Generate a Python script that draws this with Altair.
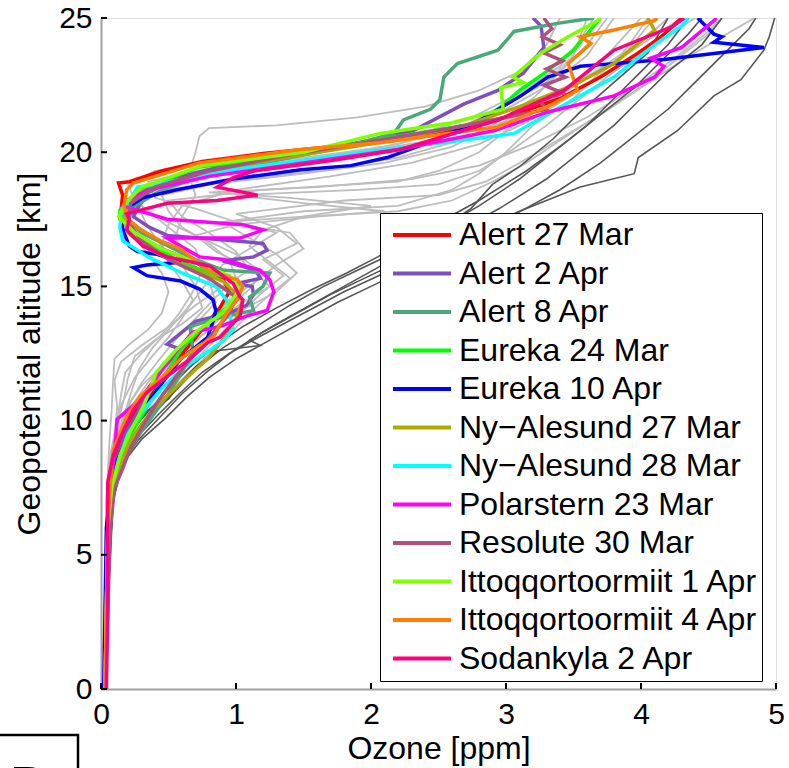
import altair as alt
import pandas as pd

# ---------------- legend / series definitions ----------------
names = ["Alert 27 Mar", "Alert 2 Apr", "Alert 8 Apr", "Eureka 24 Mar", "Eureka 10 Apr",
         "Ny\u2212Alesund 27 Mar", "Ny\u2212Alesund 28 Mar", "Polarstern 23 Mar", "Resolute 30 Mar",
         "Ittoqqortoormiit 1 Apr", "Ittoqqortoormiit 4 Apr", "Sodankyla 2 Apr"]
colors = ["#ff0000", "#7f4fbf", "#4ca87a", "#00ff00", "#0000ff", "#b0a800",
          "#00ffff", "#ff00ff", "#b05080", "#80ff00", "#ff8000", "#ff0080"]

x_ticks = [0, 1, 2, 3, 4, 5]
y_ticks = [0, 5, 10, 15, 20, 25]

# ---------------- coloured profiles: [ozone ppm, altitude km] ----------------
alert_27mar = [[0.03,0],[0.04,3],[0.05,6],[0.07,7.5],[0.1,8.5],[0.16,9.5],[0.25,10.3],[0.38,11.0],
               [0.5,11.8],[0.62,12.6],[0.75,13.4],[0.88,14.2],[0.95,14.8],[0.9,15.3],[0.7,15.9],
               [0.45,16.4],[0.28,16.9],[0.18,17.4],[0.15,17.9],[0.16,18.4],[0.13,18.85],[0.21,18.9],
               [0.45,19.3],[0.75,19.65],[1.2,19.95],[1.7,20.2],[2.1,20.4],[2.6,20.8],[3.0,21.3],
               [3.4,22.0],[3.7,22.8],[3.95,23.6],[4.15,24.3],[4.3,25]]
alert_2apr = [[0.03,0],[0.04,3],[0.05,6],[0.07,7.5],[0.11,8.5],[0.18,9.5],[0.28,10.4],[0.36,11.2],
              [0.45,11.9],[0.59,12.65],[0.49,12.85],[0.6,13.3],[0.7,13.7],[0.95,14.0],[1.08,14.3],
              [1.13,14.7],[1.12,15.0],[1.0,15.1],[1.18,15.3],[1.15,15.6],[0.9,15.95],[1.13,16.1],
              [1.23,16.35],[1.2,16.6],[0.98,16.7],[0.49,16.9],[0.36,17.2],[0.24,17.6],[0.28,18.0],
              [0.35,18.5],[0.6,19.1],[1.0,19.6],[1.5,20.0],[1.95,20.4],[2.31,20.8],[2.69,21.8],
              [2.94,22.3],[3.13,22.95],[3.28,23.9],[3.26,24.7],[3.2,25]]
alert_8apr = [[0.03,0],[0.05,3],[0.06,6],[0.1,7.5],[0.16,8.3],[0.21,8.9],[0.3,9.6],[0.4,10.3],
              [0.5,11.0],[0.6,11.8],[0.68,12.6],[0.66,13.5],[0.85,13.8],[1.13,14.1],[1.1,14.6],
              [1.2,15.0],[1.25,15.5],[0.91,15.6],[0.7,16.0],[0.5,16.5],[0.3,17.0],[0.2,17.5],
              [0.25,18.0],[0.45,18.6],[0.8,19.2],[1.3,19.7],[1.8,20.2],[2.17,20.7],[2.24,21.2],
              [2.44,21.6],[2.51,21.95],[2.54,22.8],[2.64,23.3],[2.94,23.8],[3.01,24.2],[3.06,24.5],
              [3.38,24.8],[3.65,25]]
eureka_24mar = [[0.03,0],[0.04,3],[0.05,6],[0.08,7.5],[0.13,8.5],[0.2,9.3],[0.28,10.0],[0.35,10.6],
                [0.42,11.2],[0.5,11.9],[0.6,12.7],[0.72,13.3],[0.85,13.9],[0.98,14.4],[1.03,14.9],
                [0.95,15.3],[0.75,15.6],[0.55,16.0],[0.4,16.5],[0.25,17.0],[0.14,17.5],[0.14,17.85],
                [0.2,18.2],[0.29,18.6],[0.73,19.45],[1.48,19.95],[2.22,20.6],[2.81,21.1],[2.94,21.6],
                [3.1,22.3],[3.3,23.0],[3.5,23.8],[3.6,24.4],[3.7,25]]
eureka_10apr = [[0.02,0],[0.03,3],[0.04,6],[0.07,7.5],[0.12,8.5],[0.2,9.4],[0.28,10.2],[0.38,10.9],
                [0.49,11.65],[0.59,12.3],[0.79,13.1],[0.83,13.7],[0.85,14.1],[0.83,14.5],[0.73,14.9],
                [0.59,15.2],[0.34,15.4],[0.24,15.7],[0.34,15.8],[0.59,15.9],[0.41,16.2],[0.27,16.3],
                [0.21,16.5],[0.17,17.0],[0.14,17.6],[0.17,17.85],[0.31,18.3],[0.56,18.6],[0.98,19.0],
                [1.48,19.35],[1.85,19.5],[2.12,19.8],[2.45,20.4],[2.81,21.2],[3.11,22.1],[3.31,22.8],
                [3.55,23.2],[3.8,23.3],[4.17,23.45],[4.91,23.9],[4.54,24.1],[4.6,24.3],[4.54,24.4],
                [4.44,24.9],[4.42,25]]
nyalesund_27mar = [[0.03,0],[0.05,3],[0.06,6],[0.09,7.5],[0.15,8.5],[0.25,9.5],[0.38,10.4],[0.59,11.4],
                   [0.79,12.3],[0.9,13.0],[1.0,13.8],[1.05,14.5],[0.9,15.2],[0.6,15.8],[0.35,16.4],
                   [0.2,17.0],[0.17,17.6],[0.22,18.2],[0.45,18.8],[0.9,19.4],[1.5,19.9],[2.1,20.4],
                   [2.7,21.0],[3.1,21.7],[3.5,22.5],[3.8,23.3],[3.92,23.8],[4.1,24.55],[4.05,25]]
nyalesund_28mar = [[0.03,0],[0.04,3],[0.05,6],[0.08,7.5],[0.13,8.5],[0.2,9.5],[0.3,10.3],[0.45,11.2],
                   [0.62,12.0],[0.8,12.6],[0.91,13.0],[0.98,13.4],[0.95,14.0],[0.93,14.5],[0.85,15.0],
                   [0.6,15.5],[0.35,16.1],[0.16,16.7],[0.14,17.2],[0.15,17.7],[0.27,18.7],[0.73,19.1],
                   [0.98,19.35],[1.5,19.7],[2.1,20.1],[2.6,20.4],[3.06,20.7],[3.55,22.1],[3.8,22.8],
                   [4.1,24.0],[4.3,24.7],[4.35,25]]
polarstern_23mar = [[0.03,0],[0.04,3],[0.05,6],[0.07,7.5],[0.1,8.8],[0.12,10.05],[0.29,10.8],[0.51,12.3],
                    [0.68,13.3],[0.88,13.5],[1.08,13.9],[1.23,14.1],[1.28,14.8],[1.25,15.25],[1.18,15.6],
                    [0.91,16.0],[0.73,16.1],[0.59,16.5],[0.49,16.8],[1.03,16.8],[1.2,17.1],[1.05,17.3],
                    [0.49,17.5],[0.16,18.0],[0.19,18.2],[0.35,18.6],[0.8,19.1],[1.5,19.6],[2.2,20.1],
                    [2.91,20.8],[3.31,21.5],[3.8,22.1],[4.1,22.8],[4.17,23.2],[4.07,23.5],[4.3,23.9],
                    [4.54,24.9],[4.56,25]]
resolute_30mar = [[0.03,0],[0.05,3],[0.07,6],[0.1,7.5],[0.16,8.2],[0.22,9.0],[0.32,9.9],[0.42,10.7],
                  [0.55,11.6],[0.68,12.4],[0.82,13.2],[0.95,14.0],[1.0,14.6],[0.8,15.3],[0.5,16.0],
                  [0.3,16.7],[0.2,17.4],[0.22,18.1],[0.4,18.7],[0.8,19.3],[1.4,19.9],[2.0,20.4],
                  [2.6,20.9],[3.0,21.3],[3.3,21.6],[3.25,21.9],[3.42,22.2],[3.28,22.5],[3.44,22.8],
                  [3.3,23.1],[3.42,23.4],[3.28,23.7],[3.4,24.0],[3.27,24.3],[3.34,24.6],[3.28,25]]
ittoq_1apr = [[0.03,0],[0.04,3],[0.05,6],[0.08,7.5],[0.14,8.7],[0.22,9.6],[0.32,10.6],[0.41,11.8],
              [0.55,12.6],[0.7,13.3],[0.9,14.0],[1.03,14.9],[0.95,15.4],[0.7,15.9],[0.45,16.4],
              [0.25,17.0],[0.13,17.6],[0.18,18.1],[0.3,18.7],[0.75,19.5],[1.5,20.0],[2.07,20.7],
              [2.6,21.1],[2.98,21.6],[2.96,22.4],[3.13,22.6],[3.05,22.8],[3.26,23.7],[3.46,24.3],
              [3.68,24.9],[3.7,25]]
ittoq_4apr = [[0.03,0],[0.04,3],[0.05,6],[0.07,7.7],[0.09,8.9],[0.19,10.15],[0.29,10.9],[0.46,11.65],
              [0.59,12.3],[0.73,12.8],[0.83,13.1],[0.93,14.0],[1.01,14.5],[1.05,15.0],[1.01,15.25],
              [0.79,15.6],[0.59,16.4],[0.44,16.7],[0.3,17.1],[0.2,17.5],[0.17,18.0],[0.19,18.6],
              [0.24,18.85],[0.73,19.6],[1.48,20.1],[2.07,20.35],[2.94,20.95],[3.31,21.7],[3.53,22.3],
              [3.46,23.3],[3.63,24.05],[3.55,24.3],[3.8,24.55],[4.1,24.9],[4.12,25]]
sodankyla_2apr = [[0.04,0],[0.05,3],[0.05,5.6],[0.05,7.7],[0.09,8.7],[0.16,9.55],[0.24,10.4],[0.34,11.05],
                  [0.49,11.65],[0.66,12.3],[0.79,12.9],[0.88,13.1],[1.03,13.9],[1.05,14.5],[1.03,14.6],
                  [0.98,15.1],[0.81,15.75],[0.68,15.9],[0.49,16.1],[0.31,16.5],[0.24,16.85],[0.19,17.1],
                  [0.21,17.5],[0.19,17.7],[0.49,18.1],[0.86,18.2],[1.16,18.4],[0.86,18.7],[0.98,19.05],
                  [1.13,19.3],[1.72,19.7],[2.22,20.1],[2.94,21.2],[3.43,22.3],[3.8,23.8],[4.24,24.7],
                  [4.32,25]]

coloured = [alert_27mar, alert_2apr, alert_8apr, eureka_24mar, eureka_10apr, nyalesund_27mar,
            nyalesund_28mar, polarstern_23mar, resolute_30mar, ittoq_1apr, ittoq_4apr, sodankyla_2apr]

# ---------------- light grey background profiles ----------------
grey_01 = [[0.02,0],[0.03,4],[0.05,7],[0.08,8.5],[0.1,9.5],[0.12,10.5],[0.1,11.5],[0.15,12.2],[0.3,12.8],
           [0.5,13.5],[0.7,14.3],[0.9,15.0],[1.1,15.6],[1.0,16.3],[0.8,17.0],[0.6,17.6],[0.5,18.2],
           [1.2,18.6],[2.2,18.9],[2.5,19.3],[2.8,20.0],[3.0,20.8],[3.3,21.8],[3.6,22.8],[3.9,23.8],[4.1,25]]
grey_02 = [[0.02,0],[0.04,4],[0.06,7],[0.1,8.5],[0.15,9.5],[0.25,10.5],[0.4,11.5],[0.55,12.4],[0.75,13.2],
           [1.0,14.0],[1.3,14.8],[1.45,15.5],[1.3,16.2],[1.1,16.8],[0.9,17.4],[1.5,17.8],[2.2,18.0],
           [2.6,18.6],[2.8,19.2],[3.0,20.0],[3.2,21.0],[3.5,22.0],[3.7,23.0],[4.0,24.0],[4.3,25]]
grey_03 = [[0.02,0],[0.03,4],[0.04,7],[0.06,9],[0.08,10.5],[0.09,11.5],[0.1,12.3],[0.2,12.8],[0.35,13.4],
           [0.45,14.0],[0.5,14.8],[0.45,15.5],[0.35,16.2],[0.25,16.8],[0.2,17.5],[0.3,18.2],[0.6,18.8],
           [1.0,19.3],[1.6,19.8],[2.2,20.3],[2.7,21.0],[3.0,21.8],[3.3,22.6],[3.5,23.6],[3.6,25]]
grey_04 = [[0.02,0],[0.04,4],[0.05,7],[0.08,8.8],[0.14,9.8],[0.2,10.6],[0.3,11.3],[0.45,12.0],[0.6,12.8],
           [0.7,13.6],[0.85,14.4],[0.8,15.2],[0.65,16.0],[0.55,16.8],[0.6,17.6],[0.7,18.4],[0.65,19.2],
           [0.7,20.0],[0.73,20.6],[0.8,20.9],[1.3,21.0],[1.9,21.3],[2.4,21.7],[2.8,22.3],[3.1,23.0],
           [3.3,24.0],[3.4,25]]
grey_05 = [[0.02,0],[0.03,4],[0.05,7],[0.09,8.5],[0.14,9.4],[0.22,10.2],[0.32,11.0],[0.45,11.8],[0.62,12.6],
           [0.8,13.4],[0.95,14.2],[1.1,14.9],[1.2,15.5],[1.0,16.2],[0.7,16.9],[0.45,17.5],[0.3,18.0],
           [0.25,18.5],[0.5,19.0],[1.1,19.5],[1.8,19.9],[2.4,20.4],[2.9,21.1],[3.3,22.0],[3.6,22.9],
           [3.8,23.9],[4.0,25]]
grey_06 = [[0.02,0],[0.04,4],[0.06,7],[0.1,8.4],[0.18,9.3],[0.3,10.1],[0.45,10.9],[0.6,11.7],[0.75,12.5],
           [0.9,13.3],[1.05,14.1],[1.2,14.8],[1.35,15.4],[1.2,16.0],[1.45,16.6],[1.3,17.2],[1.0,17.7],
           [1.8,18.2],[2.5,18.4],[2.85,18.9],[3.1,19.6],[3.4,20.5],[3.7,21.4],[4.0,22.4],[4.3,23.4],
           [4.6,24.3],[4.84,25]]
grey_07 = [[0.02,0],[0.03,4],[0.04,7],[0.07,8.7],[0.12,9.8],[0.17,10.8],[0.2,11.6],[0.25,12.4],[0.4,13.0],
           [0.6,13.6],[0.75,14.2],[0.7,15.0],[0.6,15.8],[0.45,16.5],[0.35,17.2],[0.28,17.9],[0.35,18.4],
           [0.8,18.8],[1.5,19.2],[2.1,19.6],[2.6,20.2],[2.9,21.0],[3.2,22.0],[3.4,23.0],[3.6,24.0],[3.75,25]]
grey_08 = [[0.02,0],[0.04,4],[0.05,7],[0.08,8.6],[0.13,9.6],[0.2,10.5],[0.3,11.4],[0.42,12.2],[0.55,13.0],
           [0.7,13.8],[0.85,14.6],[1.0,15.3],[0.95,16.0],[0.8,16.6],[0.6,17.2],[0.5,17.8],[0.45,18.4],
           [0.9,18.9],[1.6,19.3],[2.2,19.8],[2.7,20.5],[3.1,21.4],[3.45,22.3],[3.75,23.2],[4.0,24.1],[4.2,25]]
grey_09 = [[0.02,0],[0.03,4],[0.05,7],[0.1,8.9],[0.16,10.0],[0.22,11.0],[0.28,11.9],[0.38,12.7],[0.52,13.5],
           [0.66,14.3],[0.78,15.1],[0.9,15.8],[1.1,16.4],[1.3,17.0],[1.0,17.4],[0.7,17.9],[0.4,18.3],
           [0.35,18.9],[0.8,19.4],[1.5,19.8],[2.1,20.2],[2.6,20.8],[3.0,21.6],[3.35,22.6],[3.6,23.6],[3.8,25]]
grey_10 = [[0.02,0],[0.04,4],[0.06,7],[0.1,8.6],[0.17,9.6],[0.28,10.5],[0.4,11.3],[0.52,12.1],[0.65,12.9],
           [0.8,13.7],[0.95,14.5],[1.15,15.2],[1.3,15.8],[1.5,16.4],[1.4,17.0],[0.9,17.4],[1.5,17.6],
           [2.2,17.8],[2.6,18.2],[2.9,18.9],[3.15,19.6],[3.45,20.6],[3.75,21.6],[4.05,22.6],[4.3,23.6],
           [4.5,24.4],[4.6,25]]
grey_11 = [[0.02,0],[0.03,4],[0.05,7],[0.08,8.8],[0.12,10.0],[0.15,11.0],[0.18,11.8],[0.3,12.5],[0.45,13.2],
           [0.58,14.0],[0.68,14.8],[0.75,15.6],[0.7,16.4],[0.55,17.0],[0.4,17.6],[0.25,18.2],[0.2,18.8],
           [0.4,19.3],[1.0,19.8],[1.7,20.2],[2.3,20.6],[2.75,21.3],[3.1,22.2],[3.4,23.2],[3.55,24.2],[3.65,25]]
grey_12 = [[0.02,0],[0.04,4],[0.06,7],[0.11,8.4],[0.2,9.2],[0.32,10.0],[0.48,10.8],[0.62,11.6],[0.78,12.4],
           [0.95,13.2],[1.1,14.0],[1.25,14.7],[1.4,15.3],[1.25,15.9],[1.1,16.5],[1.2,17.1],[1.5,17.6],
           [2.0,18.0],[1.4,18.3],[0.8,18.5],[1.6,18.7],[2.3,19.0],[2.8,19.5],[3.2,20.3],[3.6,21.3],
           [3.95,22.4],[4.25,23.5],[4.5,24.5],[4.6,25]]
grey_13 = [[0.02,0],[0.03,4],[0.04,7],[0.06,8.5],[0.1,9.5],[0.15,10.6],[0.25,11.6],[0.38,12.4],[0.5,13.1],
           [0.6,13.8],[0.68,14.5],[0.6,15.2],[0.5,15.9],[0.45,16.6],[0.5,17.3],[0.6,18.0],[1.0,18.6],
           [1.7,19.1],[2.3,19.6],[2.8,20.3],[3.15,21.1],[3.45,22.0],[3.7,22.9],[3.9,23.9],[4.05,25]]
grey_14 = [[0.02,0],[0.04,4],[0.05,7],[0.09,8.6],[0.15,9.7],[0.25,10.7],[0.36,11.5],[0.5,12.3],[0.65,13.0],
           [0.85,13.7],[1.05,14.4],[1.25,15.0],[1.1,15.7],[0.85,16.3],[0.7,16.9],[1.0,17.3],[1.6,17.6],
           [2.1,17.8],[1.5,18.1],[1.0,18.4],[1.9,18.6],[2.5,18.8],[2.8,19.3],[3.05,20.1],[3.3,21.0],
           [3.55,22.0],[3.8,23.0],[4.1,24.0],[4.4,25]]
greys = [grey_01, grey_02, grey_03, grey_04, grey_05, grey_06, grey_07,
         grey_08, grey_09, grey_10, grey_11, grey_12, grey_13, grey_14]

# ---------------- dark grey profiles ----------------
dark_1 = [[0.03,0],[0.05,4],[0.08,7],[0.13,8.5],[0.25,9.5],[0.4,10.3],[0.55,11.1],[0.7,11.9],[0.9,12.7],
          [1.15,13.5],[1.4,14.3],[1.65,15.0],[1.9,15.6],[2.15,16.2],[2.45,17.0],[2.8,18.0],[3.1,19.0],
          [3.35,20.0],[3.6,21.0],[3.8,22.0],[4.0,23.0],[4.2,24.0],[4.35,25]]
dark_2 = [[0.03,0],[0.05,4],[0.09,7],[0.15,8.4],[0.28,9.3],[0.45,10.2],[0.6,11.0],[0.78,11.8],[0.98,12.6],
          [1.2,13.3],[1.45,14.0],[1.7,14.7],[1.95,15.3],[2.2,15.9],[2.55,16.8],[2.95,17.9],[3.3,19.0],
          [3.55,20.0],[3.8,21.0],[4.0,22.0],[4.2,23.0],[4.45,24.0],[4.6,25]]
dark_3 = [[0.03,0],[0.05,4],[0.08,7],[0.12,8.6],[0.2,9.6],[0.35,10.4],[0.5,10.8],[0.58,11.4],[0.7,12.0],
          [0.86,12.6],[1.18,12.8],[1.1,13.0],[1.3,13.6],[1.55,14.3],[1.8,15.0],[2.05,15.7],[2.35,16.6],
          [2.74,17.9],[2.9,18.8],[3.11,19.5],[3.35,20.5],[3.55,21.5],[3.8,22.6],[4.05,23.7],[4.2,25]]
dark_4 = [[0.03,0],[0.05,4],[0.09,7],[0.14,8.5],[0.27,9.4],[0.42,10.2],[0.58,11.0],[0.75,11.8],[0.95,12.5],
          [1.2,13.2],[1.5,14.0],[1.8,14.8],[2.1,15.5],[2.4,16.2],[2.74,17.0],[3.1,17.8],[3.55,18.7],
          [3.95,19.2],[3.98,19.8],[4.27,20.8],[4.54,22.1],[4.74,22.7],[4.91,23.8],[4.95,24.3],[4.99,25]]
dark_5 = [[0.03,0],[0.05,4],[0.08,7],[0.12,8.6],[0.22,9.6],[0.38,10.5],[0.52,11.3],[0.66,12.0],[0.85,12.8],
          [1.05,13.5],[1.3,14.2],[1.57,14.9],[1.82,15.5],[2.05,16.1],[2.4,17.1],[2.8,18.2],[3.15,19.3],
          [3.45,20.4],[3.7,21.4],[3.95,22.4],[4.15,23.4],[4.35,24.4],[4.45,25]]
dark_6 = [[0.03,0],[0.06,4],[0.09,7],[0.16,8.4],[0.3,9.3],[0.48,10.1],[0.64,10.9],[0.8,11.6],[1.0,12.3],
          [1.25,13.0],[1.5,13.7],[1.75,14.4],[2.0,15.0],[2.25,15.6],[2.6,16.5],[3.0,17.5],[3.4,18.6],
          [3.7,19.6],[3.95,20.6],[4.2,21.6],[4.4,22.6],[4.6,23.6],[4.8,24.6],[4.85,25]]
darks = [dark_1, dark_2, dark_3, dark_4, dark_5, dark_6]


def to_frame(profile_list, labels):
    rows = []
    for lab, prof in zip(labels, profile_list):
        for i, (o, a) in enumerate(prof):
            rows.append({"name": lab, "i": i, "ozone": o, "alt": a})
    return pd.DataFrame(rows)


grey_df = to_frame(greys, [f"g{k}" for k in range(len(greys))])
dark_df = to_frame(darks, [f"d{k}" for k in range(len(darks))])

FONT = "Liberation Sans"

xscale = alt.Scale(domain=[0, 5], nice=False, zero=False)
yscale = alt.Scale(domain=[0, 25], nice=False, zero=False)

x_axis = alt.Axis(values=x_ticks, title="Ozone [ppm]", ticks=False, grid=False,
                  labelFontSize=30, titleFontSize=32, labelFont=FONT, titleFont=FONT,
                  titleFontWeight="normal", labelColor="black", titleColor="black",
                  domainColor="#a0a0a0", domainWidth=2, labelPadding=10, titlePadding=4,
                  format="d", labelFlush=False, labelOverlap=False)
y_axis = alt.Axis(values=y_ticks, title="Geopotential altitude [km]", ticks=False, grid=False,
                  labelFontSize=30, titleFontSize=32, labelFont=FONT, titleFont=FONT,
                  titleFontWeight="normal", labelColor="black", titleColor="black",
                  domainColor="#a0a0a0", domainWidth=2, labelPadding=9, titlePadding=12,
                  format="d", labelFlush=False, labelOverlap=False)

X = alt.X("ozone:Q", scale=xscale, axis=x_axis, title="Ozone [ppm]")
Y = alt.Y("alt:Q", scale=yscale, axis=y_axis, title="Geopotential altitude [km]")

grey_layer = alt.Chart(grey_df).mark_line(color="#bdbdbd", strokeWidth=1.8, clip=True).encode(
    x=X, y=Y, detail="name:N", order="i:Q")
dark_layer = alt.Chart(dark_df).mark_line(color="#555555", strokeWidth=1.6, clip=True).encode(
    x=X, y=Y, detail="name:N", order="i:Q")

color_enc = alt.Color(
    "name:N",
    scale=alt.Scale(domain=names, range=colors),
    legend=alt.Legend(orient="none", legendX=279, legendY=195, title=None, symbolType="stroke",
                      symbolSize=3364, symbolStrokeWidth=4, labelFont=FONT, labelFontSize=32,
                      labelColor="black", clipHeight=36, rowPadding=2.5, padding=4, symbolOffset=7,
                      labelOffset=6, fillColor="white", strokeColor="black", labelLimit=500,
                      values=names))

coloured_layers = []
for nm, prof in zip(names, coloured):
    df = to_frame([prof], [nm])
    coloured_layers.append(
        alt.Chart(df).mark_line(strokeWidth=3.5, clip=True).encode(
            x=X, y=Y, color=color_enc, order="i:Q"))

# short inward tick marks at the axis tick values
xt_df = pd.DataFrame({"ozone": x_ticks})
yt_df = pd.DataFrame({"alt": y_ticks})
xtick_layer = alt.Chart(xt_df).mark_rule(color="black", strokeWidth=2).encode(
    x=X, y=alt.value(671), y2=alt.value(665))
ytick_layer = alt.Chart(yt_df).mark_rule(color="black", strokeWidth=2).encode(
    y=Y, x=alt.value(0), x2=alt.value(6))

panel_df = pd.DataFrame({"lab": ["D"]})
panel_box = alt.Chart(panel_df).mark_rect(filled=False, stroke="black", strokeWidth=2.5).encode(
    x=alt.value(-110), x2=alt.value(-23), y=alt.value(717), y2=alt.value(790))
panel_text = alt.Chart(panel_df).mark_text(font=FONT, fontSize=60, align="left",
                                           baseline="alphabetic", color="black").encode(
    text="lab:N", x=alt.value(-92), y=alt.value(790))

chart = alt.layer(grey_layer, dark_layer, *coloured_layers, xtick_layer, ytick_layer,
                  panel_box, panel_text).properties(
    width=675, height=671,
    autosize=alt.AutoSizeParams(type="none"),
    padding={"left": 101, "top": 18, "right": 13, "bottom": 79},
).configure_view(stroke=None).configure(font=FONT, background="white")

chart.save("out.html", embed_options={"renderer": "svg", "actions": False})
